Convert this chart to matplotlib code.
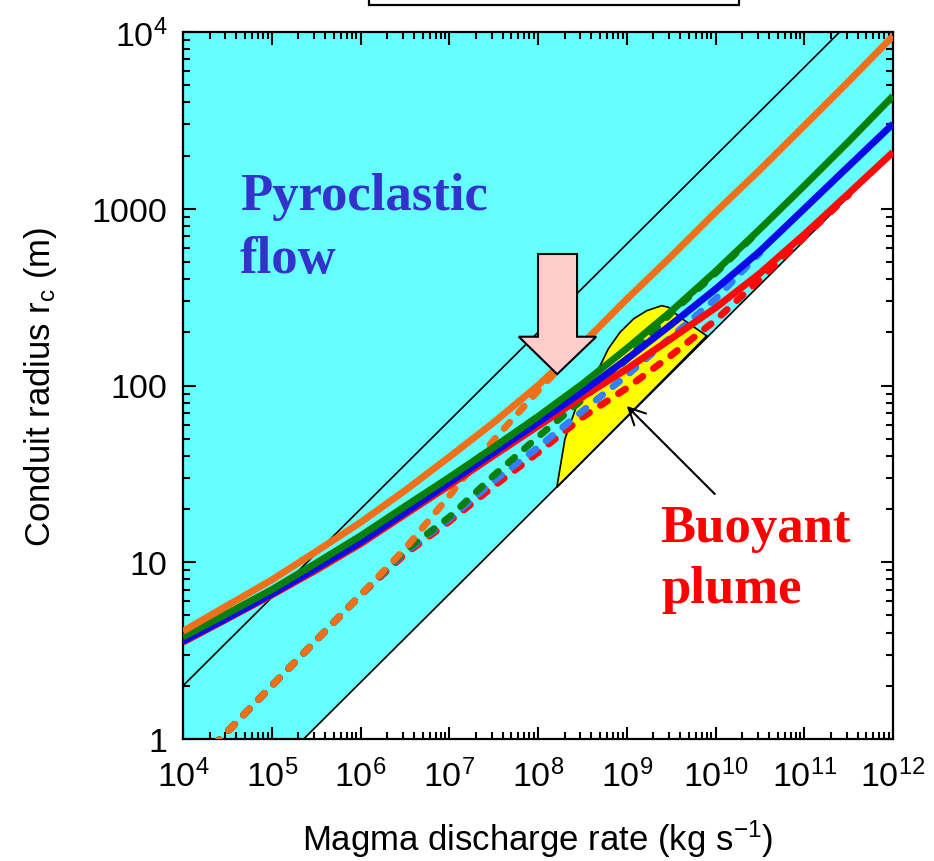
import matplotlib
matplotlib.use("Agg")
import matplotlib.pyplot as plt
from matplotlib import font_manager
from matplotlib.patches import Polygon, Rectangle
from matplotlib.ticker import FixedLocator, FixedFormatter, LogLocator, NullFormatter

# ---------------------------------------------------------------- data
# magma discharge rate (kg/s), half-decade steps
q = [1e4, 3.16e4, 1e5, 3.16e5, 1e6, 3.16e6, 1e7, 3.16e7, 1e8,
     3.16e8, 1e9, 3.16e9, 1e10, 3.16e10, 1e11, 3.16e11, 1e12]

# conduit radius (m), solid curves
r_orange = [4.07, 5.69, 7.94, 11.5, 16.8, 25.4, 39.4, 61.7, 100,
            172, 308, 537, 955, 1660, 2950, 5250, 9480]
r_green = [3.78, 5.13, 7.0, 9.89, 14.1, 20.7, 30.2, 44.7, 66.8,
           102, 162, 263, 442, 767, 1350, 2400, 4345]
r_blue = [3.58, 4.84, 6.61, 9.23, 13.0, 19.1, 28.2, 41.7, 61.7,
          92.3, 141, 221, 351, 575, 1000, 1740, 3020]
r_red = [3.53, 4.79, 6.53, 9.02, 12.7, 18.6, 27.2, 40.1, 58.9,
         86.1, 124, 184, 275, 431, 716, 1220, 2090]

# conduit radius (m), dashed curves (same q grid, truncated where they join)
rd_orange = [0.617, 1.10, 2.0, 3.61, 6.52, 11.9, 23.7, 49.0, 93.3, 172]
rd_green = [0.617, 1.10, 2.0, 3.61, 6.52, 11.6, 18.0, 30.9, 51.2,
            83.2, 141, 257, 432, 759]
rd_blue = [0.617, 1.10, 2.0, 3.61, 6.52, 11.4, 17.6, 28.8, 44.7,
           71.6, 114, 188, 309, 562]
rd_red = [0.617, 1.10, 2.0, 3.61, 6.52, 11.1, 17.0, 26.9, 41.7,
          66.1, 96.6, 148, 234, 398, 692, 1200]

# straight regime boundaries (r proportional to q^0.5)
edge_q = [1e4, 1e12]
edge_lower_r = [0.209, 2089]
edge_upper_r = [2.0, 19950]

# buoyant plume region
plume_q = [1.63e8, 2.01e8, 2.73e8, 3.85e8, 5.0e8, 6.19e8, 8.39e8,
           1.19e9, 1.68e9, 2.48e9, 2.94e9, 3.98e9, 7.96e9]
plume_r = [26.5, 49.8, 76.9, 104, 129, 161, 200,
           238, 265, 283, 277, 243, 191]

x_ticks = [1e4, 1e5, 1e6, 1e7, 1e8, 1e9, 1e10, 1e11, 1e12]
x_tick_labels = [r"$10^{4}$", r"$10^{5}$", r"$10^{6}$", r"$10^{7}$", r"$10^{8}$",
                 r"$10^{9}$", r"$10^{10}$", r"$10^{11}$", r"$10^{12}$"]
y_ticks = [1, 10, 100, 1000, 1e4]
y_tick_labels = ["1", "10", "100", "1000", r"$10^{4}$"]

# ---------------------------------------------------------------- style
available = {f.name for f in font_manager.fontManager.ttflist}
if "Liberation Sans Narrow" in available:
    label_family, label_size = "Liberation Sans Narrow", 30
else:
    label_family, label_size = "Liberation Sans", 25

plt.rcParams["font.family"] = "Liberation Sans"
plt.rcParams["mathtext.fontset"] = "custom"
plt.rcParams["mathtext.rm"] = "Liberation Sans"
plt.rcParams["mathtext.it"] = "Liberation Sans:italic"
plt.rcParams["mathtext.bf"] = "Liberation Sans:bold"
plt.rcParams["mathtext.default"] = "regular"
plt.rcParams["lines.scale_dashes"] = False

C_CYAN = "#66FFFF"
C_YELLOW = "#FFFF00"
C_ORANGE = "#F0701A"
C_GREEN = "#0A800A"
C_BLUE = "#0A0AE6"
C_BLUE_D = "#3080FF"
C_RED = "#FF0A0A"

fig = plt.figure(figsize=(9.34, 8.62), dpi=100)
ax = fig.add_axes([183 / 934, 122 / 862, 710 / 934, 707 / 862])
ax.set_xscale("log")
ax.set_yscale("log")
ax.set_xlim(1e4, 1e12)
ax.set_ylim(1, 1e4)

# pyroclastic-flow field above the lower boundary
ax.fill_between(edge_q, edge_lower_r, 1e4, color=C_CYAN, lw=0, zorder=1)
ax.add_patch(Polygon(list(zip(plume_q, plume_r)), closed=True,
                     facecolor=C_YELLOW, edgecolor="k", lw=1.2, zorder=2))
ax.plot(edge_q, edge_lower_r, color="k", lw=1.2, zorder=3)
ax.plot(edge_q, edge_upper_r, color="k", lw=1.2, zorder=3)

dash_kw = dict(lw=5, dashes=(6, 9.5), dash_capstyle="round")
n = len
ax.plot(q[:n(rd_red)], rd_red, color=C_RED, zorder=4.0, **dash_kw)
ax.plot(q[:n(rd_blue)], rd_blue, color=C_BLUE_D, zorder=4.1, **dash_kw)
ax.plot(q[:n(rd_green)], rd_green, color=C_GREEN, zorder=4.2, **dash_kw)
ax.plot(q[:n(rd_orange)], rd_orange, color=C_ORANGE, zorder=4.3, **dash_kw)

solid_kw = dict(lw=5, solid_capstyle="butt", solid_joinstyle="round")
ax.plot(q, r_red, color=C_RED, zorder=5.0, **solid_kw)
ax.plot(q, r_blue, color=C_BLUE, zorder=5.1, **solid_kw)
ax.plot(q, r_green, color=C_GREEN, zorder=5.2, **solid_kw)
ax.plot(q, r_orange, color=C_ORANGE, zorder=5.3, **solid_kw)

# big downward arrow
arrow_pts = [(0.500, 0.686), (0.555, 0.686), (0.555, 0.569), (0.582, 0.569),
             (0.527, 0.516), (0.473, 0.569), (0.500, 0.569)]
ax.add_patch(Polygon(arrow_pts, closed=True, transform=ax.transAxes,
                     facecolor="#FFCCCC", edgecolor="k", lw=1.5, zorder=6))

# pointer to the plume region
ax.annotate("", xy=(0.625, 0.471), xytext=(0.749, 0.3465),
            xycoords="axes fraction", textcoords="axes fraction",
            arrowprops=dict(arrowstyle="->,head_length=0.6,head_width=0.3",
                            lw=1.5, color="k", shrinkA=0, shrinkB=0,
                            mutation_scale=20), zorder=7)

serif = dict(family="Liberation Serif", weight="bold", size=38,
             transform=ax.transAxes, ha="left", va="baseline", zorder=7)
ax.text(0.0803, 0.7496, "Pyroclastic", color="#3333CC", **serif)
ax.text(0.0803, 0.6605, "flow", color="#3333CC", **serif)
ax.text(0.672, 0.280, "Buoyant", color="#FF0000", **serif)
ax.text(0.674, 0.194, "plume", color="#FF0000", **serif)

# ---------------------------------------------------------------- axes
ax.xaxis.set_major_locator(FixedLocator(x_ticks))
ax.xaxis.set_major_formatter(FixedFormatter(x_tick_labels))
ax.yaxis.set_major_locator(FixedLocator(y_ticks))
ax.yaxis.set_major_formatter(FixedFormatter(y_tick_labels))
for axis in (ax.xaxis, ax.yaxis):
    axis.set_minor_locator(LogLocator(base=10, subs=range(2, 10), numticks=100))
    axis.set_minor_formatter(NullFormatter())

ax.tick_params(which="both", direction="in", top=True, right=True,
               width=1.5, colors="k", labelsize=24.5)
ax.tick_params(which="major", length=9)
ax.tick_params(which="minor", length=5)
ax.tick_params(axis="x", pad=14)
ax.tick_params(axis="y", pad=11)
for sp in ax.spines.values():
    sp.set_linewidth(1.6)

ax.set_xlabel(r"Magma discharge rate (kg s$^{-1}$)", family=label_family,
              size=label_size, labelpad=18)
ax.set_ylabel(r"Conduit radius r$_{c}$ (m)", family=label_family,
              size=label_size, labelpad=24)

# title frame above the plot
fig.patches.append(Rectangle((369 / 934, 856 / 862), 370 / 934, 0.05,
                             transform=fig.transFigure, facecolor="white",
                             edgecolor="k", lw=1.6, clip_on=False))

fig.savefig("out.png", dpi=100)
